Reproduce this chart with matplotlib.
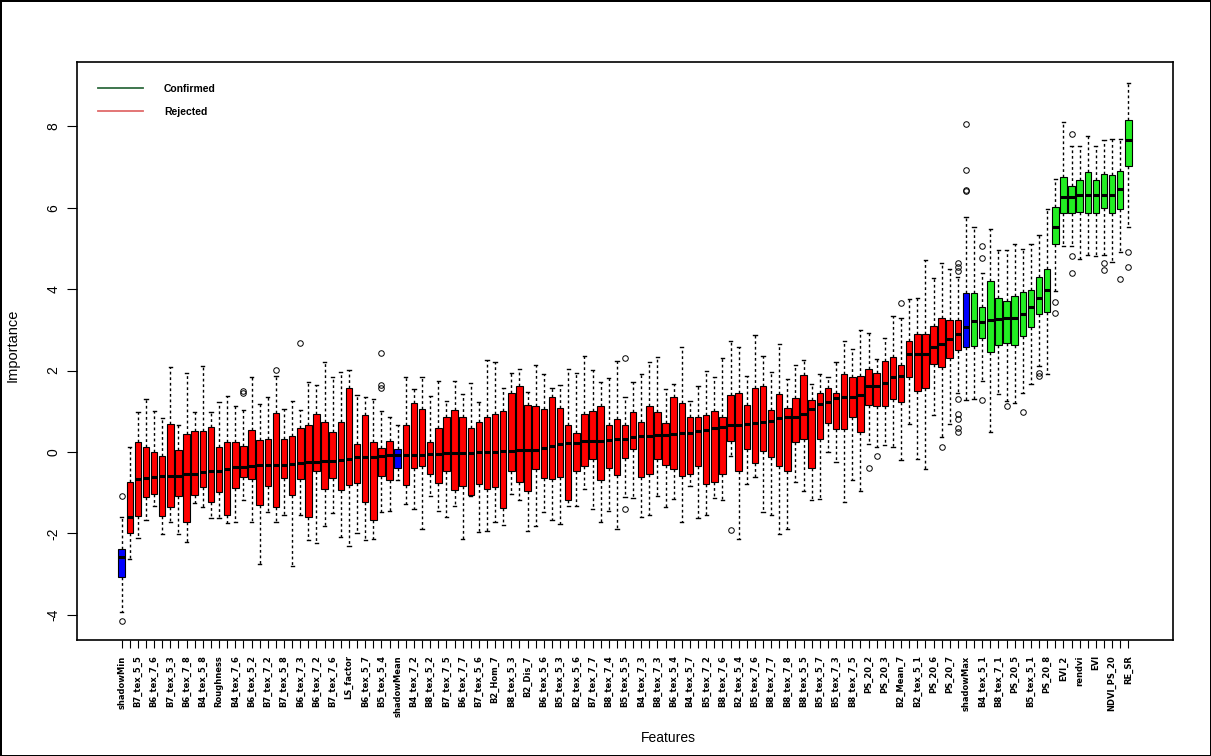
import numpy as np
import matplotlib
matplotlib.use("Agg")
import matplotlib.pyplot as plt
from matplotlib.lines import Line2D

# Boruta importance boxes, one entry per feature (125 features, sorted by median)
q1 = [-3.07, -1.99, -1.58, -1.11, -1.03, -1.58, -1.36, -1.07, -1.71, -1.05,
      -0.87, -1.23, -0.99, -1.54, -0.89, -0.62, -0.66, -1.30, -0.84, -1.36,
      -0.64, -1.05, -0.66, -1.60, -0.48, -0.91, -0.64, -0.93, -0.80, -0.77,
      -1.22, -1.68, -0.58, -0.68, -0.40, -0.80, -0.40, -0.35, -0.54, -0.77,
      -0.48, -0.93, -0.83, -1.05, -0.78, -0.91, -0.87, -1.37, -0.48, -0.73,
      -0.96, -0.42, -0.64, -0.66, -0.62, -1.17, -0.48, -0.35, -0.17, -0.70,
      -0.39, -0.56, -0.15, 0.07, -0.62, -0.54, -0.17, -0.31, -0.43, -0.58,
      -0.54, -0.35, -0.78, -0.74, -0.54, 0.28, -0.48, 0.07, -0.27, 0.03,
      -0.13, -0.35, -0.48, 0.24, 0.33, -0.40, 0.33, 0.71, 0.56, 0.56,
      0.85, 0.48, 1.15, 1.14, 1.12, 1.30, 1.22, 1.83, 1.50, 1.56,
      2.16, 2.08, 2.32, 2.51, 2.59, 2.61, 2.81, 2.46, 2.62, 2.67,
      2.62, 2.85, 3.06, 3.38, 3.44, 5.10, 5.87, 5.87, 5.89, 5.87,
      5.87, 6.00, 5.87, 5.97, 7.03]
med = [-2.59, -1.60, -0.66, -0.65, -0.62, -0.60, -0.60, -0.58, -0.54, -0.54,
       -0.50, -0.48, -0.46, -0.43, -0.38, -0.38, -0.35, -0.33, -0.33, -0.32,
       -0.31, -0.29, -0.27, -0.25, -0.24, -0.23, -0.22, -0.20, -0.17, -0.13,
       -0.13, -0.13, -0.10, -0.07, -0.08, -0.07, -0.07, -0.07, -0.05, -0.05,
       -0.03, -0.02, -0.02, -0.02, -0.01, -0.01, 0.01, 0.03, 0.03, 0.05,
       0.05, 0.06, 0.09, 0.14, 0.20, 0.22, 0.22, 0.28, 0.28, 0.28,
       0.30, 0.32, 0.33, 0.36, 0.40, 0.40, 0.42, 0.42, 0.44, 0.47,
       0.47, 0.52, 0.55, 0.60, 0.62, 0.65, 0.66, 0.69, 0.71, 0.74,
       0.77, 0.83, 0.85, 0.85, 0.93, 1.05, 1.18, 1.22, 1.32, 1.34,
       1.36, 1.40, 1.61, 1.63, 1.69, 1.83, 1.87, 2.40, 2.40, 2.40,
       2.57, 2.65, 2.77, 2.89, 3.08, 3.22, 3.19, 3.24, 3.26, 3.30,
       3.30, 3.38, 3.57, 3.79, 3.98, 5.53, 6.27, 6.27, 6.32, 6.32,
       6.32, 6.32, 6.32, 6.45, 7.66]
q3 = [-2.39, -0.73, 0.25, 0.11, 0.01, -0.11, 0.69, 0.06, 0.44, 0.52,
      0.52, 0.62, 0.11, 0.25, 0.25, 0.14, 0.55, 0.29, 0.33, 0.96,
      0.33, 0.38, 0.58, 0.66, 0.93, 0.73, 0.48, 0.73, 1.57, 0.20,
      0.91, 0.24, 0.10, 0.28, 0.08, 0.66, 1.20, 1.05, 0.24, 0.58,
      0.85, 1.04, 0.87, 0.60, 0.74, 0.85, 0.93, 1.01, 1.46, 1.63,
      1.15, 1.12, 1.05, 1.34, 1.09, 0.66, 0.47, 0.93, 1.01, 1.14,
      0.65, 0.81, 0.66, 0.97, 0.74, 1.14, 0.97, 0.71, 1.36, 1.20,
      0.85, 0.85, 0.91, 1.01, 0.85, 1.40, 1.44, 1.15, 1.56, 1.63,
      1.03, 1.42, 1.09, 1.32, 1.89, 1.28, 1.45, 1.56, 1.45, 1.91,
      1.83, 1.87, 2.03, 1.95, 2.24, 2.34, 2.13, 2.73, 2.89, 2.89,
      3.10, 3.30, 3.24, 3.24, 3.90, 3.90, 3.57, 4.20, 3.79, 3.71,
      3.82, 3.93, 3.98, 4.31, 4.49, 6.02, 6.76, 6.54, 6.69, 6.87,
      6.67, 6.84, 6.81, 6.90, 8.16]
lo = [-3.93, -2.62, -2.12, -1.66, -1.32, -2.01, -1.71, -2.01, -2.21, -1.26,
      -1.36, -1.63, -1.63, -1.74, -1.71, -1.17, -1.71, -2.75, -1.48, -1.71,
      -1.54, -2.80, -1.56, -2.17, -2.23, -1.81, -1.50, -2.09, -2.30, -1.99,
      -2.17, -2.15, -1.47, -1.46, -0.70, -1.27, -1.40, -1.90, -1.07, -1.46,
      -1.60, -1.33, -2.15, -1.09, -1.97, -1.95, -1.71, -1.79, -1.03, -1.19,
      -1.93, -1.81, -1.48, -1.68, -1.76, -1.32, -1.32, -0.91, -1.40, -1.72,
      -1.44, -1.89, -1.11, -1.14, -1.60, -1.56, -1.07, -1.36, -1.15, -1.71,
      -0.83, -1.63, -1.54, -1.14, -1.18, -0.09, -2.15, -0.78, -0.62, -1.48,
      -1.56, -2.01, -1.90, -0.74, -0.97, -1.19, -1.15, 0.00, -0.24, -1.23,
      -0.70, -0.95, 0.20, 0.11, 0.16, 0.11, -0.21, 0.69, -0.17, -0.43,
      0.91, 0.36, 0.69, 1.45, 1.28, 1.30, 1.75, 0.48, 1.42, 1.26,
      1.20, 1.46, 1.67, 2.12, 1.91, 3.95, 5.07, 5.06, 4.75, 4.85,
      4.81, 4.85, 4.66, 4.90, 5.53]
hi = [-1.60, 0.11, 0.97, 1.30, 1.01, 0.83, 2.08, 0.66, 1.94, 0.99,
      2.10, 0.97, 1.22, 1.38, 1.12, 1.04, 1.83, 1.18, 1.34, 1.87,
      1.05, 1.26, 1.04, 1.72, 1.64, 2.20, 1.83, 1.97, 2.01, 1.40,
      1.36, 1.30, 1.00, 0.85, 0.66, 1.83, 1.54, 1.83, 1.38, 1.75,
      1.26, 1.75, 1.42, 1.69, 1.23, 2.26, 2.20, 1.56, 1.95, 2.05,
      1.48, 2.13, 1.91, 1.56, 1.64, 2.05, 1.93, 2.36, 2.02, 1.71,
      1.81, 2.24, 1.36, 1.71, 1.91, 2.21, 2.34, 1.54, 1.67, 2.57,
      1.26, 1.61, 1.99, 1.83, 2.32, 2.73, 2.57, 1.87, 2.87, 2.36,
      1.97, 2.66, 1.79, 2.13, 2.26, 1.67, 1.91, 1.83, 2.21, 2.73,
      2.54, 3.00, 2.93, 2.28, 2.79, 3.34, 3.30, 3.75, 3.79, 4.71,
      4.28, 4.65, 4.50, 4.30, 5.78, 5.53, 4.40, 5.47, 4.96, 4.96,
      5.10, 4.98, 5.10, 5.32, 5.96, 6.70, 8.10, 7.51, 7.51, 7.77,
      7.52, 7.67, 7.69, 7.70, 9.07]

# outliers, keyed by feature position (1-based)
outliers = {
    1: [-1.07, -4.15], 16: [1.50, 1.45], 20: [2.02], 23: [2.67],
    33: [2.43, 1.64, 1.58], 63: [2.30, -1.40], 76: [-1.91],
    93: [-0.40], 94: [-0.09], 97: [3.65], 102: [0.11],
    104: [4.65, 4.55, 4.45, 1.30, 0.93, 0.80, 0.60, 0.50],
    105: [8.06, 6.92, 6.43, 6.40], 107: [5.06, 4.77, 1.28],
    110: [1.12], 112: [0.97], 114: [1.95, 1.87], 116: [3.68, 3.42],
    118: [7.82, 4.82, 4.39], 122: [4.65, 4.47], 124: [4.24],
    125: [4.91, 4.55],
}

shadow_pos = [1, 35, 105]
first_confirmed = 106

# only every other name fits under the axis
shown_labels = ["shadowMin", "B7_tex_5_5", "B6_tex_7_6", "B7_tex_5_3", "B6_tex_7_8",
                "B4_tex_5_8", "Roughness", "B4_tex_7_6", "B6_tex_5_2", "B7_tex_7_2",
                "B7_tex_5_8", "B6_tex_7_3", "B6_tex_7_2", "B7_tex_7_6", "LS_factor",
                "B6_tex_5_7", "B5_tex_5_4", "shadowMean", "B4_tex_7_2", "B8_tex_5_2",
                "B7_tex_7_5", "B6_tex_7_7", "B7_tex_5_6", "B2_Hom_7", "B8_tex_5_3",
                "B2_Dis_7", "B6_tex_5_6", "B5_tex_5_3", "B2_tex_5_6", "B7_tex_7_7",
                "B8_tex_7_4", "B5_tex_5_5", "B4_tex_7_3", "B8_tex_7_3", "B6_tex_5_4",
                "B4_tex_5_7", "B5_tex_7_2", "B8_tex_7_6", "B2_tex_5_4", "B5_tex_7_6",
                "B8_tex_7_7", "B8_tex_7_8", "B8_tex_5_5", "B5_tex_5_7", "B5_tex_7_3",
                "B8_tex_7_5", "PS_20_2", "PS_20_3", "B2_Mean_7", "B2_tex_5_1",
                "PS_20_6", "PS_20_7", "shadowMax", "B4_tex_5_1", "B8_tex_7_1",
                "PS_20_5", "B5_tex_5_1", "PS_20_8", "EVI_2", "rendvi",
                "EVI", "NDVI_PS_20", "RE_SR"]

n = len(med)
positions = np.arange(1, n + 1)

stats = []
for i in range(n):
    stats.append(dict(med=med[i], q1=q1[i], q3=q3[i], whislo=lo[i], whishi=hi[i],
                      fliers=outliers.get(i + 1, [])))

fig = plt.figure(figsize=(12.11, 7.56), dpi=100, facecolor="white",
                 edgecolor="black", linewidth=2)
ax = fig.add_axes([77 / 1211, 116 / 756, 1096 / 1211, 578 / 756])

bp = ax.bxp(stats, positions=positions, widths=0.8, patch_artist=True,
            manage_ticks=False,
            boxprops=dict(edgecolor="black", linewidth=0.8),
            medianprops=dict(color="black", linewidth=2.2),
            whiskerprops=dict(color="black", linewidth=1, linestyle=(0, (2, 2))),
            capprops=dict(color="black", linewidth=1),
            flierprops=dict(marker="o", markersize=4, markerfacecolor="none",
                            markeredgecolor="black", markeredgewidth=0.7))

for i, box in enumerate(bp["boxes"]):
    pos = i + 1
    if pos in shadow_pos:
        box.set_facecolor("#0000ff")
    elif pos >= first_confirmed:
        box.set_facecolor("#22ee22")
    else:
        box.set_facecolor("#ff0000")

ax.set_xlim(-4.5, n + 5.5)
ax.set_ylim(-4.62, 9.58)

tick_labels = []
for i in range(n):
    tick_labels.append(shown_labels[i // 2] if i % 2 == 0 else "")
ax.set_xticks(positions)
ax.set_xticklabels(tick_labels, rotation=90,
                   fontfamily=["Liberation Sans Narrow", "DejaVu Sans"],
                   fontsize=6, fontweight="bold")
ax.tick_params(axis="x", length=6, width=0.8, pad=5)

ax.set_yticks([-4, -2, 0, 2, 4, 6, 8])
ax.set_yticklabels(["-4", "-2", "0", "2", "4", "6", "8"], rotation=90, va="center",
                   fontfamily="Liberation Sans", fontsize=10)
ax.tick_params(axis="y", length=7, width=0.8, pad=5)

for sp in ax.spines.values():
    sp.set_linewidth(1.2)

fig.text(13 / 1211, 1 - 345 / 756, "Importance", rotation=90, ha="center", va="center",
         fontfamily="Liberation Sans", fontsize=10.5)
fig.text(668 / 1211, 1 - 738 / 756, "Features", ha="center", va="center",
         fontfamily="Liberation Sans", fontsize=10)

handles = [Line2D([0], [0], color="#2f6b3f", linewidth=1.3),
           Line2D([0], [0], color="#e06a6a", linewidth=1.3)]
ax.legend(handles, ["Confirmed", "Rejected"], loc="upper left",
          bbox_to_anchor=(0.011, 0.979), frameon=False, handlelength=4.3,
          handletextpad=2.0, labelspacing=1.3,
          prop=dict(family="Liberation Sans", weight="bold", size=7.5))

fig.savefig("out.png", dpi=100, facecolor="white", edgecolor="black")
